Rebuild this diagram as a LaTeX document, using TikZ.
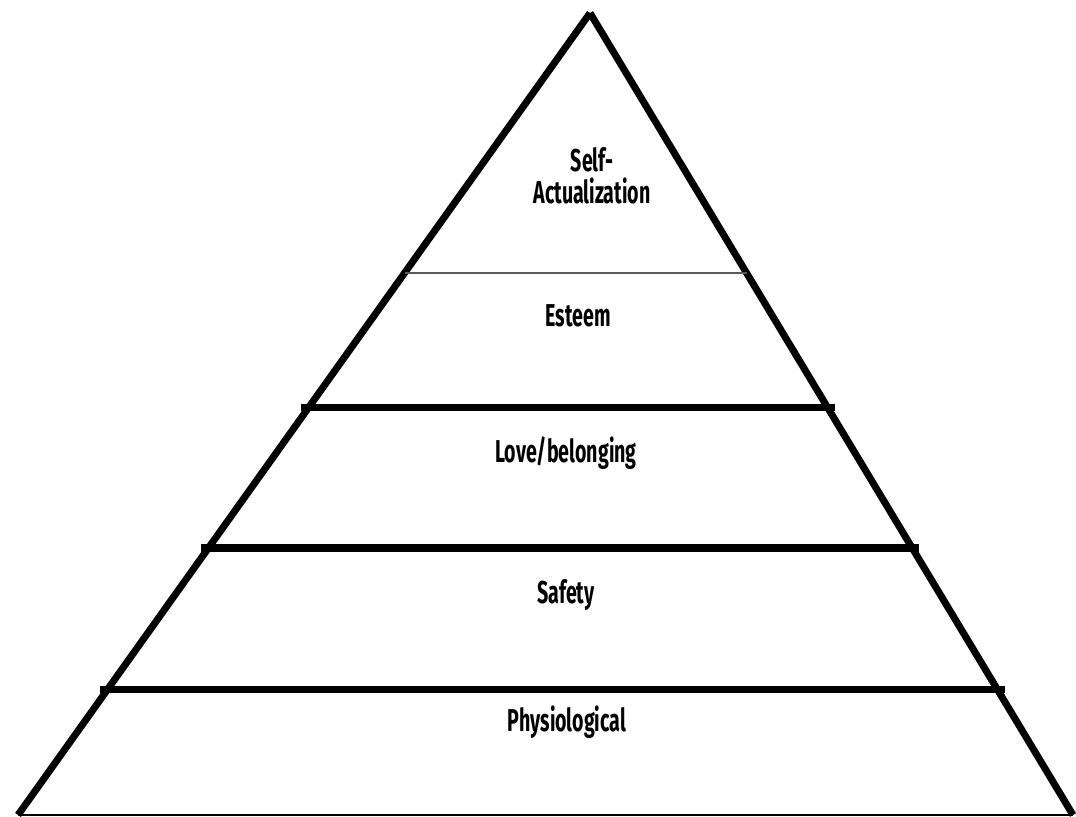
\documentclass[tikz,border=0pt]{standalone}
\usepackage{fontspec}
\newfontfamily\nivelfont[FakeStretch=0.62]{Fira Sans}
\usetikzlibrary{calc}

\tikzset{
  lado/.style={line width=4pt},
  nivel/.style={line width=4pt, shorten <=-4pt, shorten >=-4pt},
  fina/.style={line width=0.9pt, draw=black!65},
  base/.style={line width=1.6pt},
  etiqueta/.style={font=\nivelfont\bfseries\fontsize{18}{18}\selectfont, align=center, inner sep=0pt}
}

\begin{document}
\begin{tikzpicture}[x=0.02cm,y=-0.02cm]

      % Marco de la figura
      \useasboundingbox (0,0) rectangle (1076,817);

      % Vértices de la pirámide
      \coordinate (cima) at (590,13);
      \coordinate (izq) at (18,815);
      \coordinate (der) at (1073,815);

      % Dibujar los lados y la base
      \draw[lado] (cima) -- (izq);
      \draw[lado] (cima) -- (der);
      \draw[base] (izq) -- (der);

      % Puntos de corte de cada nivel
      \foreach \n/\t in {a/0.3242, b/0.4925, c/0.6671, d/0.8441} { % Iterar sobre niveles
        \coordinate (\n i) at ($(cima)!\t!(izq)$);
        \coordinate (\n d) at ($(cima)!\t!(der)$);
      }

      % Dibujar las divisiones
      \draw[fina] (ai) -- (ad);
      \foreach \n in {b,c,d} {
        \draw[nivel] (\n i) -- (\n d);
      }

      % Nombres de los niveles
      \node[etiqueta] (autorrealizacion) at (592,176) {Self-\\Actualization};
      \node[etiqueta] (estima) at (578,316) {Esteem};
      \node[etiqueta] (amor) at (566,453) {Love/belonging};
      \node[etiqueta] (seguridad) at (566,595) {Safety};
      \node[etiqueta] (fisiologia) at (567,722) {Physiological};

    \end{tikzpicture}
\end{document}
